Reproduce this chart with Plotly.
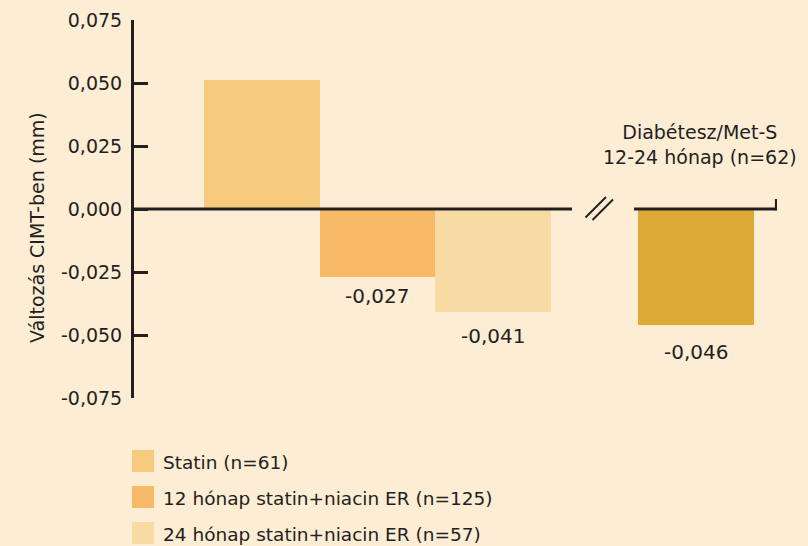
import plotly.graph_objects as go

# ---- data ----
series_names = ["Statin (n=61)",
                "12 hónap statin+niacin ER (n=125)",
                "24 hónap statin+niacin ER (n=57)"]
series_values = [0.051, -0.027, -0.041]
series_colors = ["#F7CB7E", "#F6BA66", "#F7DBA2"]

diab_title = ["Diabétesz/Met-S", "12-24 hónap (n=62)"]
diab_value = -0.046
diab_color = "#DEAA36"

value_labels = [None, "-0,027", "-0,041"]
diab_label = "-0,046"

tick_vals = [0.075, 0.05, 0.025, 0.0, -0.025, -0.05, -0.075]
tick_text = ["0,075", "0,050", "0,025", "0,000", "-0,025", "-0,050", "-0,075"]
y_title = "Változás CIMT-ben (mm)"

# ---- layout helpers ----
BG = "#FDEDD4"
INK = "#231F20"
FONT = "DejaVu Sans"
OFF = 8                           # page body margin of the html page
W, H = 808 - OFF, 546 - OFF
L, R, T, B = 134 - OFF, 31, 20 - OFF, 148
X0, X1 = -1.108, 4.459          # x range
Y0, Y1 = -0.075, 0.075
pw, ph = W - L - R, H - T - B


def dx(p):  # screen pixel -> x data
    return X0 + (p - OFF - L) / pw * (X1 - X0)


def dy(p):  # screen pixel -> y data
    return Y1 - (p - OFF - T) / ph * (Y1 - Y0)


def pxp(p):  # screen pixel -> paper x
    return (p - OFF - L) / pw


def pyp(p):  # screen pixel -> paper y
    return (H - B - (p - OFF)) / ph


x_main = list(range(len(series_values)))
x_diab = len(series_values) + 0.758
label_shift = [0, -5, -10]       # pixel gap below each bar (style)
diab_shift = -13

fig = go.Figure()
fig.add_trace(go.Bar(x=x_main, y=series_values, width=1.0,
                     marker=dict(color=series_colors, line=dict(width=0)),
                     showlegend=False, hoverinfo="skip"))
fig.add_trace(go.Bar(x=[x_diab], y=[diab_value], width=1.0,
                     marker=dict(color=diab_color, line=dict(width=0)),
                     showlegend=False, hoverinfo="skip"))

annotations = []
for xv, v, lab, sh in zip(x_main, series_values, value_labels, label_shift):
    if lab:
        annotations.append(dict(x=xv, y=v, text=lab, showarrow=False,
                                yanchor="top", yshift=sh,
                                font=dict(family=FONT, size=20, color=INK)))
annotations.append(dict(x=x_diab, y=diab_value, text=diab_label, showarrow=False,
                        yanchor="top", yshift=diab_shift,
                        font=dict(family=FONT, size=20, color=INK)))
annotations.append(dict(x=x_diab, y=dy(144), text="<br>".join(diab_title),
                        showarrow=False, xshift=4,
                        font=dict(family=FONT, size=19, color=INK)))
annotations.append(dict(xref="paper", yref="paper", x=pxp(24), y=pyp(228),
                        text=y_title, textangle=-90, showarrow=False,
                        font=dict(family=FONT, size=19, color=INK)))

shapes = []
lw = 3
# zero line with axis break
shapes.append(dict(type="line", xref="x", yref="y", x0=X0, x1=dx(572), y0=0, y1=0,
                   line=dict(color=INK, width=lw)))
shapes.append(dict(type="line", xref="x", yref="y", x0=dx(634), x1=X1, y0=0, y1=0,
                   line=dict(color=INK, width=lw)))
shapes.append(dict(type="line", xref="x", yref="y", x0=X1 - 0.005, x1=X1 - 0.005,
                   y0=-0.0005, y1=dy(199), line=dict(color=INK, width=lw)))
for (a, b, c, d) in [(585.5, 217.5, 606, 197), (592.5, 220, 613, 199.5)]:
    shapes.append(dict(type="line", xref="x", yref="y", x0=dx(a), y0=dy(b),
                       x1=dx(c), y1=dy(d), line=dict(color=INK, width=2)))

# legend (manual, squares + labels)
rows = [461, 497, 533]
for name, col, yc in zip(series_names, series_colors, rows):
    shapes.append(dict(type="rect", xref="paper", yref="paper",
                       x0=pxp(132), x1=pxp(154), y0=pyp(yc + 11), y1=pyp(yc - 11),
                       fillcolor=col, line=dict(width=0)))
    annotations.append(dict(xref="paper", yref="paper", x=pxp(161), y=pyp(yc + 1),
                            xanchor="left", yanchor="middle", text=name,
                            showarrow=False,
                            font=dict(family=FONT, size=18.5, color=INK)))

fig.update_layout(
    width=W, height=H,
    margin=dict(l=L, r=R, t=T, b=B, pad=0, autoexpand=False),
    paper_bgcolor=BG, plot_bgcolor=BG,
    font=dict(family=FONT, size=18, color=INK),
    bargap=0,
    showlegend=False,
    xaxis=dict(range=[X0, X1], visible=False, fixedrange=True, automargin=False),
    yaxis=dict(range=[Y0, Y1], tickvals=tick_vals, ticktext=tick_text,
               showline=True, linecolor=INK, linewidth=3,
               ticks="inside", ticklen=14, tickwidth=3, tickcolor=INK,
               showgrid=False, zeroline=False, ticklabelstandoff=5,
               automargin=False,
               tickfont=dict(family=FONT, size=19, color=INK), fixedrange=True),
    shapes=shapes,
    annotations=annotations,
)

fig.write_html("out.html", post_script=[
    "document.body.style.background='%s';"
    "document.documentElement.style.background='%s';" % (BG, BG)])
